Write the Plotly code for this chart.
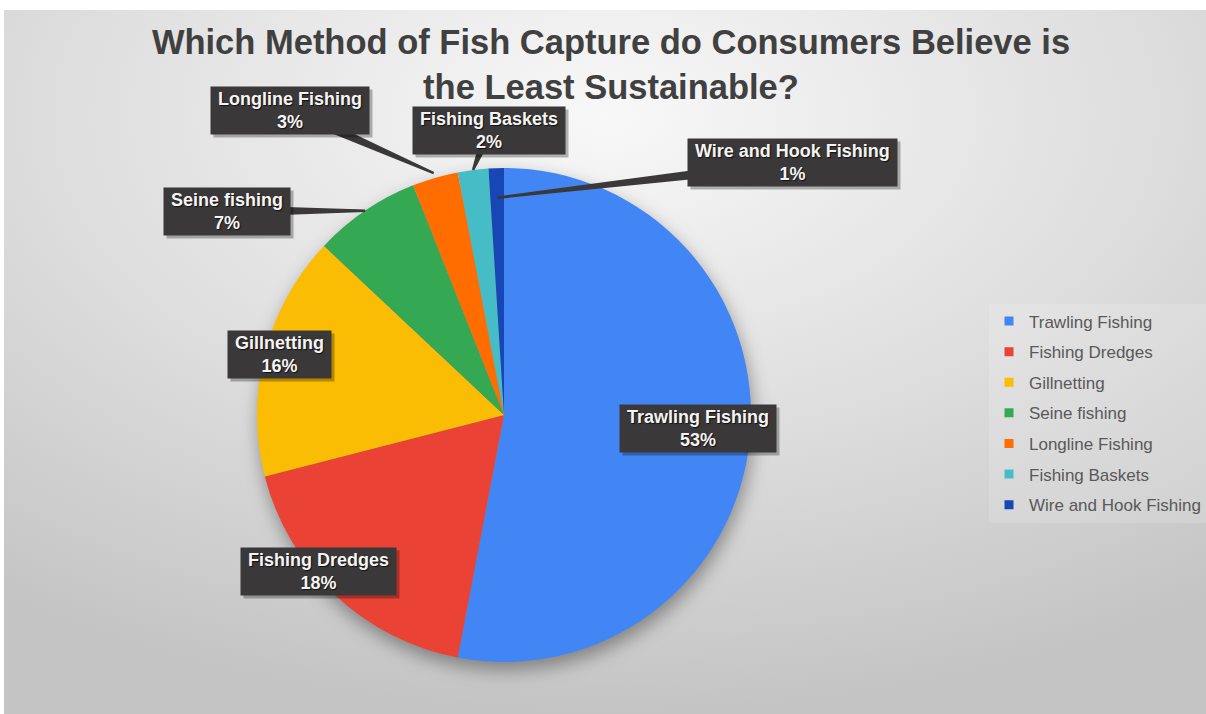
import base64
import math
import plotly.graph_objects as go

# ---- data -------------------------------------------------------------
methods = [
    "Trawling Fishing",
    "Fishing Dredges",
    "Gillnetting",
    "Seine fishing",
    "Longline Fishing",
    "Fishing Baskets",
    "Wire and Hook Fishing",
]
shares = [53, 18, 16, 7, 3, 2, 1]  # percent of respondents

# ---- styling ----------------------------------------------------------
W, H = 1206, 714
slice_colors = ["#4285F4", "#EA4335", "#FBBC04", "#34A853",
                "#FF6D01", "#46BDC6", "#1747B4"]
FONT = "Liberation Sans, Arial, sans-serif"

# pie geometry in pixels (centre and radius)
CX, CY, R = 504, 415, 247

# label box centres (pixels) and, for callouts, the radius factor of the tip
label_pos = {
    "Trawling Fishing": (698, 428, None),
    "Fishing Dredges": (318, 571, None),
    "Gillnetting": (279, 354, None),
    "Seine fishing": (227, 211, 1.0),
    "Longline Fishing": (290, 110, 1.02),
    "Fishing Baskets": (489, 130, 1.0),
    "Wire and Hook Fishing": (793, 163, 0.88),
}

# panel (grey gradient area) in pixels
PX0, PY0 = 4, 10
PW, PH = W - PX0, H - PY0


def px(x):
    return x / W


def py(y):
    return 1 - y / H


# background gradient + soft pie shadow as an inline SVG image
svg = f"""<svg xmlns='http://www.w3.org/2000/svg' width='{PW}' height='{PH}' viewBox='0 0 {PW} {PH}' preserveAspectRatio='none'>
<defs>
<radialGradient id='g' cx='0.5' cy='0.15' r='0.85' gradientUnits='objectBoundingBox'>
<stop offset='0' stop-color='#f8f8f8'/>
<stop offset='0.55' stop-color='#dddddd'/>
<stop offset='1' stop-color='#c4c4c4'/>
</radialGradient>
<filter id='b' x='-30%' y='-30%' width='160%' height='160%'><feGaussianBlur stdDeviation='9'/></filter>
</defs>
<rect width='{PW}' height='{PH}' fill='url(#g)'/>
<circle cx='{CX - PX0 + 2}' cy='{CY - PY0 + 8}' r='{R}' fill='rgba(0,0,0,0.36)' filter='url(#b)'/>
</svg>"""
svg_uri = "data:image/svg+xml;base64," + base64.b64encode(svg.encode()).decode()

fig = go.Figure()
fig.add_trace(go.Pie(
    labels=methods,
    values=shares,
    sort=False,
    direction="clockwise",
    rotation=0,
    marker=dict(colors=slice_colors, line=dict(width=0)),
    textinfo="none",
    hoverinfo="label+percent",
    showlegend=False,
    domain=dict(x=[px(CX - R), px(CX + R)], y=[py(CY + R), py(CY - R)]),
))

# legend entries: one square key per method, in slice order
for i, (name, col) in enumerate(zip(methods, slice_colors)):
    fig.add_trace(go.Scatter(
        x=[None], y=[None], mode="markers", name=name,
        marker=dict(symbol="square", size=9, color=col),
        legendgroup=f"g{i}", showlegend=True, hoverinfo="skip",
    ))

# callout labels and leaders
total = sum(shares)
cum = 0
annotations = []
shapes = []
for name, val in zip(methods, shares):
    mid = (cum + val / 2) / total * 2 * math.pi
    cum += val
    bx, by, rf = label_pos[name]
    text = f"&nbsp;{name}&nbsp;<br>{round(val / total * 100)}%"
    if rf is not None:
        tx = CX + rf * R * math.sin(mid)
        ty = CY - rf * R * math.cos(mid)
        dx, dy = tx - bx, ty - by
        L = math.hypot(dx, dy)
        nx, ny = -dy / L, dx / L
        w0, w1 = 6.0, 1.2
        pts = [(bx + nx * w0, by + ny * w0), (tx + nx * w1, ty + ny * w1),
               (tx - nx * w1, ty - ny * w1), (bx - nx * w0, by - ny * w0)]
        path = "M " + " L ".join(f"{px(a):.5f},{py(b):.5f}" for a, b in pts) + " Z"
        shapes.append(dict(type="path", path=path, xref="paper", yref="paper",
                           fillcolor="#3a3838", line=dict(width=0), layer="above"))
    common = dict(x=px(bx), y=py(by), xref="paper", yref="paper", text=text,
                  showarrow=False, xanchor="center", yanchor="middle", borderpad=2)
    # drop shadow behind the box
    annotations.append(dict(
        common, xshift=3, yshift=-3,
        font=dict(family=FONT, size=18, color="rgba(0,0,0,0)", weight="bold"),
        bgcolor="rgba(0,0,0,0.28)",
    ))
    annotations.append(dict(
        common,
        font=dict(family=FONT, size=18, color="#f4f4f4", weight="bold",
                  shadow="1px 1px 1px rgba(0,0,0,0.7)"),
        bgcolor="#3a3838",
    ))

hidden_axis = dict(visible=False, showgrid=False, zeroline=False)

fig.update_layout(
    width=W, height=H,
    margin=dict(l=0, r=0, t=0, b=0),
    paper_bgcolor="white",
    plot_bgcolor="rgba(0,0,0,0)",
    xaxis=hidden_axis, yaxis=hidden_axis,
    images=[dict(source=svg_uri, xref="paper", yref="paper",
                 x=px(PX0), y=py(PY0), sizex=PW / W, sizey=PH / H,
                 xanchor="left", yanchor="top", sizing="stretch", layer="below")],
    title=dict(
        text="Which Method of Fish Capture do Consumers Believe is<br>the Least Sustainable?",
        x=611 / W, xanchor="center", y=py(54), yanchor="top",
        font=dict(family=FONT, size=34.5, color="#404040", weight="bold"),
    ),
    legend=dict(
        x=px(989), xanchor="left", y=py(413), yanchor="middle",
        font=dict(family=FONT, size=17, color="#595959"),
        bgcolor="rgba(255,255,255,0.15)",
        traceorder="grouped", tracegroupgap=5.5,
        itemclick=False, itemdoubleclick=False,
    ),
    annotations=annotations,
    shapes=shapes,
)

fig.write_html("out.html")
